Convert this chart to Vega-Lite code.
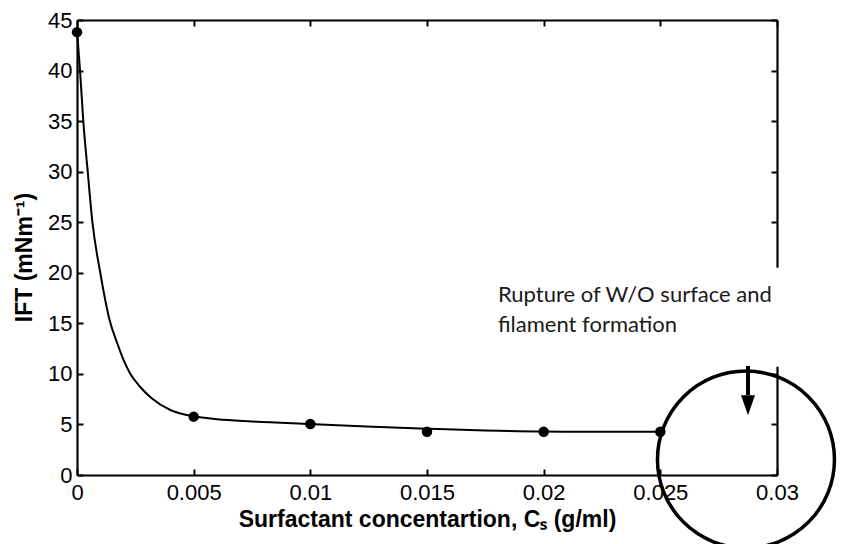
{
  "$schema": "https://vega.github.io/schema/vega-lite/v6.json",
  "width": 700,
  "height": 455,
  "autosize": {"type": "none"},
  "padding": {"left": 77, "top": 20, "right": 64, "bottom": 69},
  "background": "white",
  "config": {
    "view": {"stroke": null},
    "axis": {
      "grid": false,
      "domainColor": "black",
      "domainWidth": 2.2,
      "tickColor": "black",
      "tickWidth": 2,
      "tickSize": -6,
      "labelColor": "black",
      "labelFont": "Liberation Sans",
      "labelFontSize": 22,
      "labelFlush": false,
      "labelOverlap": false,
      "titleColor": "black",
      "titleFont": "Liberation Sans",
      "titleFontWeight": "bold",
      "titleFontSize": 23
    }
  },
  "datasets": {
    "curve": [
      {"c": 0, "ift": 44},
      {"c": 0.00013, "ift": 40},
      {"c": 0.00027, "ift": 35},
      {"c": 0.00046, "ift": 30},
      {"c": 0.00066, "ift": 25},
      {"c": 0.00099, "ift": 20.1},
      {"c": 0.00141, "ift": 15.2},
      {"c": 0.00173, "ift": 13.0},
      {"c": 0.00199, "ift": 11.4},
      {"c": 0.00227, "ift": 10.06},
      {"c": 0.0027, "ift": 8.73},
      {"c": 0.0032, "ift": 7.6},
      {"c": 0.004, "ift": 6.43},
      {"c": 0.005, "ift": 5.8},
      {"c": 0.006, "ift": 5.52},
      {"c": 0.0075, "ift": 5.3},
      {"c": 0.01, "ift": 5.04},
      {"c": 0.0124, "ift": 4.8},
      {"c": 0.015, "ift": 4.58},
      {"c": 0.0175, "ift": 4.4},
      {"c": 0.02, "ift": 4.3},
      {"c": 0.0225, "ift": 4.28},
      {"c": 0.025, "ift": 4.28}
    ],
    "measured": [
      {"c": 0, "ift": 43.8},
      {"c": 0.005, "ift": 5.77},
      {"c": 0.01, "ift": 5.04},
      {"c": 0.015, "ift": 4.28},
      {"c": 0.02, "ift": 4.28},
      {"c": 0.025, "ift": 4.28}
    ],
    "box": [{"x1": 0.0177, "x2": 0.0306, "y1": 10.7, "y2": 20.5}],
    "note": [
      {"c": 0.018043, "ift": 17.11, "label": "Rupture of W/O surface and"},
      {"c": 0.018043, "ift": 14.14, "label": "filament formation"}
    ],
    "shaft": [{"c": 0.028757, "y1": 10.78, "y2": 7.9}],
    "head": [{"c": 0.028757, "ift": 6.9}],
    "ring": [{"c": 0.02867, "ift": 1.53}]
  },
  "layer": [
    {
      "data": {"name": "curve"},
      "mark": {"type": "line", "color": "black", "strokeWidth": 2, "interpolate": "monotone"},
      "encoding": {
        "x": {
          "field": "c", "type": "quantitative",
          "scale": {"domain": [0, 0.03], "nice": false, "zero": false},
          "axis": {
            "orient": "bottom",
            "values": [0, 0.005, 0.01, 0.015, 0.02, 0.025, 0.03],
            "format": "~g",
            "labelPadding": 13,
            "title": "Surfactant concentartion, Cₛ (g/ml)",
            "titlePadding": 5
          }
        },
        "y": {
          "field": "ift", "type": "quantitative",
          "scale": {"domain": [0, 45], "nice": false, "zero": false},
          "axis": {
            "orient": "left",
            "values": [0, 5, 10, 15, 20, 25, 30, 35, 40, 45],
            "labelPadding": 11,
            "title": "IFT (mNm⁻¹)",
            "titlePadding": 11,
            "titleY": 237
          }
        }
      }
    },
    {
      "data": {"name": "measured"},
      "mark": {"type": "point", "filled": true, "color": "black", "size": 110, "opacity": 1},
      "encoding": {
        "x": {
          "field": "c", "type": "quantitative",
          "scale": {"domain": [0, 0.03], "nice": false, "zero": false},
          "axis": {"orient": "top", "values": [0, 0.005, 0.01, 0.015, 0.02, 0.025, 0.03], "labels": false, "title": null}
        },
        "y": {
          "field": "ift", "type": "quantitative",
          "scale": {"domain": [0, 45], "nice": false, "zero": false},
          "axis": {"orient": "right", "values": [0, 5, 10, 15, 20, 25, 30, 35, 40, 45], "labels": false, "title": null}
        }
      }
    },
    {
      "data": {"name": "box"},
      "mark": {"type": "rect", "fill": "white", "stroke": null},
      "encoding": {
        "x": {"field": "x1", "type": "quantitative", "scale": {"domain": [0, 0.03], "nice": false, "zero": false}, "axis": null},
        "x2": {"field": "x2"},
        "y": {"field": "y1", "type": "quantitative", "scale": {"domain": [0, 45], "nice": false, "zero": false}, "axis": null},
        "y2": {"field": "y2"}
      }
    },
    {
      "data": {"name": "note"},
      "mark": {"type": "text", "align": "left", "baseline": "alphabetic", "font": "Lato", "fontSize": 22, "color": "#1a1a1a"},
      "encoding": {
        "x": {"field": "c", "type": "quantitative", "scale": {"domain": [0, 0.03], "nice": false, "zero": false}, "axis": null},
        "y": {"field": "ift", "type": "quantitative", "scale": {"domain": [0, 45], "nice": false, "zero": false}, "axis": null},
        "text": {"field": "label"}
      }
    },
    {
      "data": {"name": "shaft"},
      "mark": {"type": "rule", "color": "black", "strokeWidth": 4},
      "encoding": {
        "x": {"field": "c", "type": "quantitative", "scale": {"domain": [0, 0.03], "nice": false, "zero": false}, "axis": null},
        "y": {"field": "y1", "type": "quantitative", "scale": {"domain": [0, 45], "nice": false, "zero": false}, "axis": null},
        "y2": {"field": "y2"}
      }
    },
    {
      "data": {"name": "head"},
      "mark": {"type": "point", "filled": true, "color": "black", "opacity": 1, "size": 400, "shape": "M-0.7,-1L0.7,-1L0,1Z"},
      "encoding": {
        "x": {"field": "c", "type": "quantitative", "scale": {"domain": [0, 0.03], "nice": false, "zero": false}, "axis": null},
        "y": {"field": "ift", "type": "quantitative", "scale": {"domain": [0, 45], "nice": false, "zero": false}, "axis": null}
      }
    },
    {
      "data": {"name": "ring"},
      "mark": {"type": "point", "filled": false, "color": "black", "opacity": 1, "strokeWidth": 3.5, "size": 31329, "shape": "circle"},
      "encoding": {
        "x": {"field": "c", "type": "quantitative", "scale": {"domain": [0, 0.03], "nice": false, "zero": false}, "axis": null},
        "y": {"field": "ift", "type": "quantitative", "scale": {"domain": [0, 45], "nice": false, "zero": false}, "axis": null}
      }
    }
  ],
  "resolve": {"axis": {"x": "independent", "y": "independent"}}
}
